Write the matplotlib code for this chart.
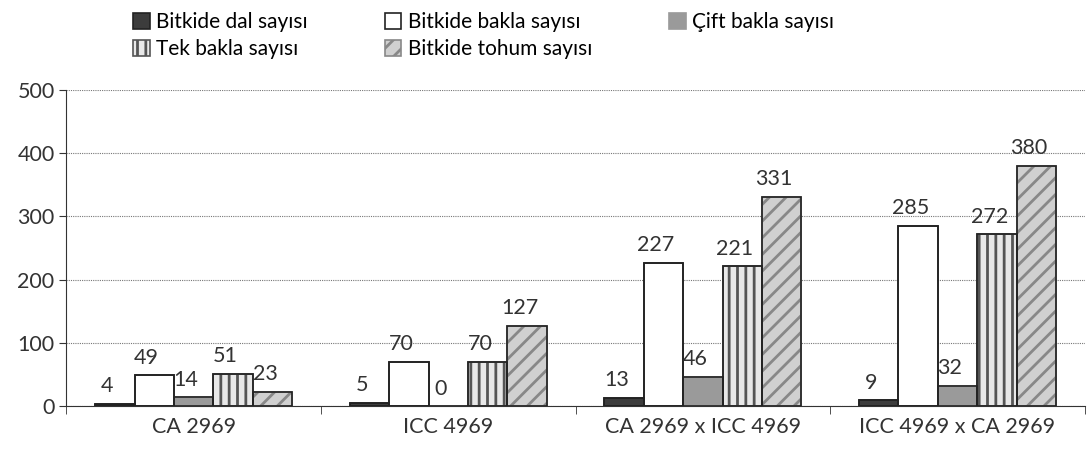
import matplotlib.pyplot as plt
import numpy as np

plt.rcParams['font.family'] = ['Lato', 'DejaVu Sans']
plt.rcParams['hatch.linewidth'] = 2.0

# data
groups = ["CA 2969", "ICC 4969", "CA 2969 x ICC 4969", "ICC 4969 x CA 2969"]
series = ["Bitkide dal sayısı", "Bitkide bakla sayısı", "Çift bakla sayısı",
          "Tek bakla sayısı", "Bitkide tohum sayısı"]
dal = [4, 5, 13, 9]
bakla = [49, 70, 227, 285]
cift = [14, 0, 46, 32]
tek = [51, 70, 221, 272]
tohum = [23, 127, 331, 380]

values = [dal, bakla, cift, tek, tohum]
faces = ["#3c3c3c", "white", "#9a9a9a", "#e8e8e8", "#d0d0d0"]
hatches = [None, None, None, "||", "//"]
hatch_cols = ["#222222", "#222222", "#9a9a9a", "#555555", "#888888"]

fig = plt.figure(figsize=(10.89, 4.61), dpi=100)
ax = fig.add_axes([0.061, 0.119, 0.935, 0.686])

x = np.arange(len(groups))
w = 0.155
handles = []
for i, (vals, fc, h, hc) in enumerate(zip(values, faces, hatches, hatch_cols)):
    pos = x + (i - 2) * w
    bars = ax.bar(pos, vals, w, facecolor=fc, edgecolor=hc, hatch=h,
                  linewidth=1.2, label=series[i], zorder=3)
    # black outline on top
    ax.bar(pos, vals, w, facecolor='none', edgecolor='#222222',
           linewidth=1.2, zorder=4)
    handles.append(bars)
    for p, v in zip(pos, vals):
        ax.text(p - 0.03, v + 12, str(v), ha='center', va='bottom',
                fontsize=15.5, color='#333333', zorder=5)

ax.set_xlim(-0.5, 3.5)
ax.set_ylim(0, 500)
ax.set_yticks(range(0, 501, 100))
ax.yaxis.grid(True, linestyle=(0, (1, 1)), color='#777777', linewidth=0.8, zorder=0)
ax.set_xticks(x)
ax.set_xticklabels(groups)
ax.set_xticks(np.arange(-0.5, 4.0, 1.0), minor=True)
ax.tick_params(axis='x', which='major', length=0, labelsize=15.5, colors='#333333', pad=8)
ax.tick_params(axis='x', which='minor', length=6, color='#333333')
ax.tick_params(axis='y', labelsize=15.5, colors='#333333', length=5)
for s in ['top', 'right']:
    ax.spines[s].set_visible(False)
ax.spines['left'].set_color('#333333')
ax.spines['bottom'].set_color('#333333')

order = [0, 3, 1, 4, 2]
fig.legend([handles[k] for k in order], [series[k] for k in order],
           ncol=3, loc='upper left', bbox_to_anchor=(0.105, 1.015),
           frameon=False, fontsize=15, handlelength=0.8, handleheight=0.8,
           handletextpad=0.3, columnspacing=3.7, labelspacing=0.35)

fig.savefig("out.png", dpi=100)
